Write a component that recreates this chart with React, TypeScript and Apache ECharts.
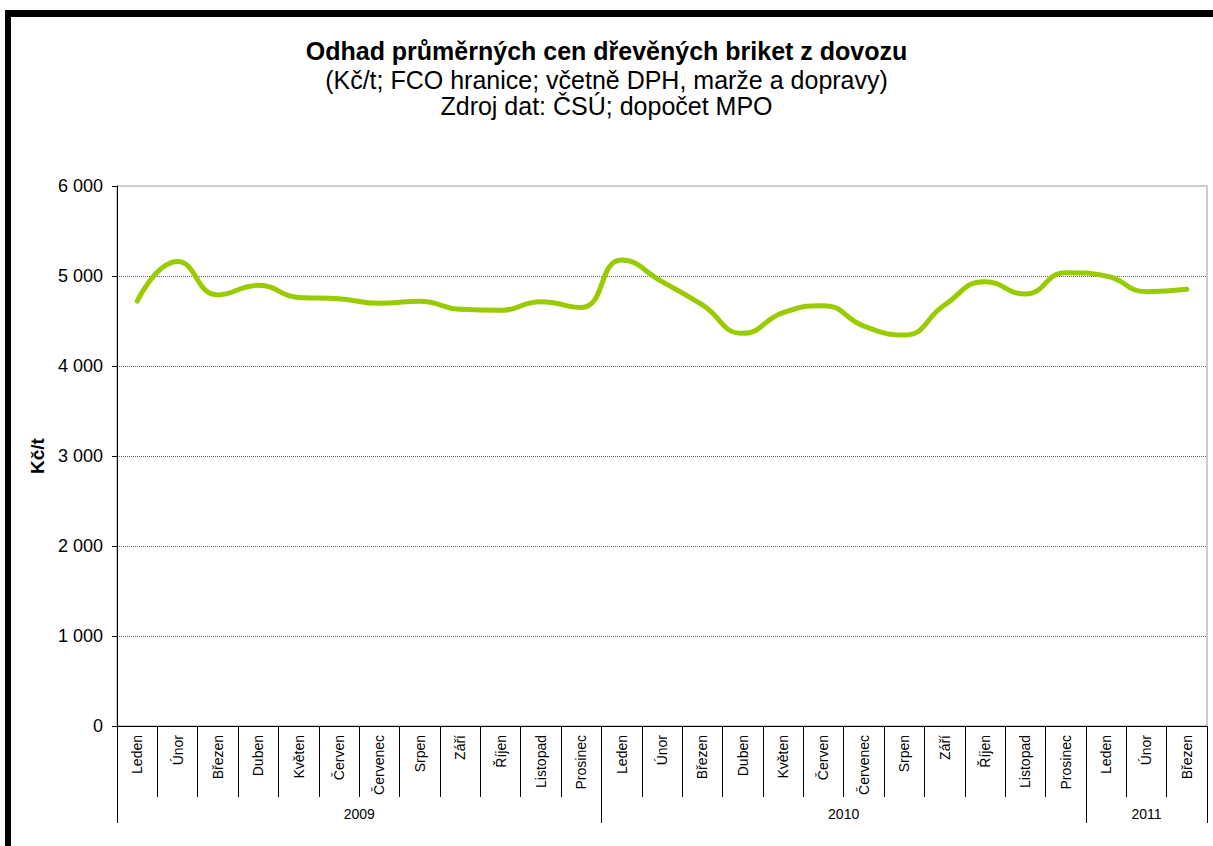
import React, { useEffect, useRef } from "react";
import * as echarts from "echarts";

const months = ["Leden", "Únor", "Březen", "Duben", "Květen", "Červen", "Červenec", "Srpen", "Září", "Říjen", "Listopad", "Prosinec"];
const years = ["2009", "2010", "2011"];
const yearSpans = [12, 12, 3];
const categories = [...months, ...months, ...months.slice(0, 3)];
const prices = [4722, 5160, 4790, 4896, 4762, 4748, 4696, 4719, 4630, 4619, 4715, 4650,
  5178, 4937, 4678, 4363, 4593, 4670, 4444, 4344, 4678, 4937, 4800, 5037,
  5000, 4826, 4852];
const yTicks = [0, 1000, 2000, 3000, 4000, 5000, 6000];

const FONT = "'Liberation Sans', Arial, sans-serif";

export default function App() {
  const ref = useRef<HTMLDivElement>(null);
  useEffect(() => {
    if (!ref.current) return;
    const chart = echarts.init(ref.current, null, { renderer: "svg" });
    const bounds: number[] = [0];
    yearSpans.forEach((s) => bounds.push(bounds[bounds.length - 1] + s));
    const mids = yearSpans.map((s, i) => bounds[i] + s / 2);
    const total = bounds[bounds.length - 1];
    chart.setOption({
      animation: false,
      backgroundColor: "#ffffff",
      textStyle: { fontFamily: FONT },
      title: [
        { text: "Odhad průměrných cen dřevěných briket z dovozu", left: "center", top: 33, textStyle: { fontFamily: FONT, fontSize: 25, fontWeight: "bold", color: "#000" } },
        { text: "(Kč/t; FCO hranice; včetně DPH, marže a dopravy)", left: "center", top: 62, textStyle: { fontFamily: FONT, fontSize: 25, fontWeight: "normal", color: "#000" } },
        { text: "Zdroj dat: ČSÚ; dopočet MPO", left: "center", top: 88, textStyle: { fontFamily: FONT, fontSize: 25, fontWeight: "normal", color: "#000" } },
      ],
      graphic: [
        { type: "rect", shape: { x: 5, y: 10, width: 6, height: 840 }, style: { fill: "#000" } },
        { type: "rect", shape: { x: 5, y: 10, width: 1210, height: 7 }, style: { fill: "#000" } },
      ],
      grid: { left: 117, right: 6, top: 186, bottom: 120, show: true, borderColor: "#999", borderWidth: 1, backgroundColor: "transparent" },
      xAxis: [
        {
          type: "category",
          data: categories,
          boundaryGap: true,
          position: "bottom",
          axisLine: { show: true, lineStyle: { color: "#000", width: 1 } },
          axisTick: { show: true, interval: 0, length: 71, lineStyle: { color: "#000" } },
          axisLabel: { interval: 0, rotate: 90, margin: 9, fontSize: 14, color: "#000", fontFamily: FONT },
          splitLine: { show: false },
        },
        {
          type: "value",
          min: 0,
          max: total,
          position: "bottom",
          axisLine: { show: false },
          axisTick: { show: true, length: 97, customValues: bounds, lineStyle: { color: "#000" } },
          axisLabel: {
            show: true,
            customValues: mids,
            margin: 81,
            fontSize: 14,
            color: "#000",
            fontFamily: FONT,
            formatter: (v: number) => {
              const i = mids.findIndex((m) => Math.abs(m - v) < 1e-6);
              return i >= 0 ? years[i] : "";
            },
          },
          splitLine: { show: false },
        },
      ],
      yAxis: {
        type: "value",
        min: yTicks[0],
        max: yTicks[yTicks.length - 1],
        interval: 1000,
        name: "Kč/t",
        nameLocation: "middle",
        nameGap: 69,
        nameTextStyle: { fontFamily: FONT, fontSize: 19, fontWeight: "bold", color: "#000" },
        axisLine: { show: true, lineStyle: { color: "#000", width: 1 } },
        axisTick: { show: true, length: 5, lineStyle: { color: "#000" } },
        axisLabel: {
          margin: 14,
          fontSize: 18,
          color: "#000",
          fontFamily: FONT,
          formatter: (v: number) => String(v).replace(/\B(?=(\d{3})+(?!\d))/g, " "),
        },
        splitLine: { show: true, showMinLine: false, showMaxLine: false, lineStyle: { color: "#666", type: [1, 1], width: 1 } },
      },
      series: [
        {
          type: "line",
          data: prices,
          smooth: 0.5,
          showSymbol: false,
          symbol: "none",
          lineStyle: { color: "#99CC00", width: 5, cap: "round" },
          itemStyle: { color: "#99CC00" },
          z: 5,
        },
      ],
    });
    return () => chart.dispose();
  }, []);
  return <div ref={ref} style={{ position: "fixed", left: 0, top: 0, width: 1213, height: 846 }} />;
}
